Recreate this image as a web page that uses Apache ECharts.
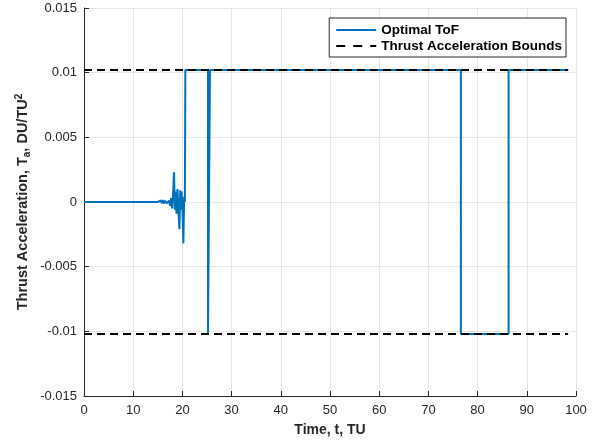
<!DOCTYPE html>
<html>
<head>
<meta charset="utf-8">
<script src="https://cdn.jsdelivr.net/npm/echarts@6/dist/echarts.min.js"></script>
<style>
  html, body { margin: 0; padding: 0; background: #fff; }
  #chart { width: 593px; height: 442px; }
</style>
</head>
<body>
<div id="chart"></div>
<script>
// time (TU) and thrust acceleration (DU/TU^2) for the optimal ToF solution
const tofTime = [
  0, 15, 15.2, 15.4, 15.6, 15.8, 16.0, 16.2, 16.5, 16.8, 17.0, 17.3, 17.5, 17.7, 17.9, 18.1,
  18.3, 18.45, 18.6, 18.8, 19.0, 19.2, 19.4, 19.55, 19.7, 19.85, 20.0, 20.2, 20.35, 20.5,
  20.6, 25.2, 25.2, 25.6, 25.6, 76.6, 76.6, 86.3, 86.3, 98.4
]
const tofAccel = [
  0, 0, 0.0001, -0.0001, 0.00012, -0.0001, 0.00015, -0.00012, 0.0001, -0.0001, 0, 0.0001, -0.0003, 0.0003, -0.0005, 0.0006,
  0.0023, -0.0006, 0.0008, -0.0009, 0.001, -0.0008, -0.0021, 0.0009, -0.0006, 0.0008, -0.0005, -0.0032, 0.0004, 0,
  0.0102, 0.0102, -0.0102, -0.0102, 0.0102, 0.0102, -0.0102, -0.0102, 0.0102, 0.0102
]
const boundTime = [0, 98.4]
const boundUpper = [0.0102, 0.0102]
const boundLower = [-0.0102, -0.0102]

const zip = (xs, ys) => xs.map((x, i) => [x, ys[i]])

const chart = echarts.init(document.getElementById('chart'))
const axisColor = '#262626'
const font = 'Liberation Sans, Arial, sans-serif'

const option = {
  animation: false,
  grid: { left: 84, right: 17, top: 8, bottom: 45 },
  legend: {
    data: [
      { name: 'Optimal ToF', itemStyle: { opacity: 0 } },
      { name: 'Thrust Acceleration Bounds', itemStyle: { opacity: 0 }, lineStyle: { type: [9, 8] } }
    ],
    orient: 'vertical',
    right: 27,
    top: 18,
    padding: [5, 4, 4, 6],
    itemGap: 2,
    itemWidth: 40,
    itemHeight: 14,
    borderColor: axisColor,
    borderWidth: 1,
    backgroundColor: '#fff',
    textStyle: { fontFamily: font, fontWeight: 'bold', fontSize: 13.5, color: '#000' }
  },
  xAxis: {
    type: 'value',
    min: 0,
    max: 100,
    interval: 10,
    name: 'Time, t, TU',
    nameLocation: 'middle',
    nameGap: 27,
    nameTextStyle: { fontFamily: font, fontWeight: 'bold', fontSize: 14, color: axisColor },
    axisLine: { onZero: false, lineStyle: { color: axisColor } },
    axisTick: { inside: true, length: 5, lineStyle: { color: axisColor } },
    axisLabel: { fontFamily: font, fontSize: 13, color: axisColor, margin: 8 },
    splitLine: { lineStyle: { color: '#e6e6e6' } }
  },
  yAxis: {
    type: 'value',
    min: -0.015,
    max: 0.015,
    interval: 0.005,
    name: '{b|Thrust Acceleration, T}{s|a}{b|, DU/TU}{p|2}',
    nameLocation: 'middle',
    nameGap: 51,
    nameMoveOverlap: false,
    nameRotate: 90,
    nameTextStyle: {
      color: axisColor,
      rich: {
        b: { fontFamily: font, fontWeight: 'bold', fontSize: 14.5, color: axisColor, lineHeight: 20 },
        s: { fontFamily: font, fontWeight: 'bold', fontSize: 10, color: axisColor, lineHeight: 20, padding: [8, 0, 0, 0] },
        p: { fontFamily: font, fontWeight: 'bold', fontSize: 10, color: axisColor, lineHeight: 20, padding: [0, 0, 8, 0] }
      }
    },
    axisLine: { show: true, onZero: false, lineStyle: { color: axisColor } },
    axisTick: { show: true, inside: true, length: 5, lineStyle: { color: axisColor } },
    axisLabel: {
      fontFamily: font, fontSize: 13, color: axisColor, margin: 7,
      formatter: v => String(parseFloat(v.toFixed(4)))
    },
    splitLine: { lineStyle: { color: '#e6e6e6' } }
  },
  series: [
    {
      name: 'Optimal ToF',
      type: 'line',
      showSymbol: false,
      symbol: 'none',
      color: '#0072BD',
      lineStyle: { width: 2, color: '#0072BD' },
      data: zip(tofTime, tofAccel),
      z: 2
    },
    {
      name: 'Thrust Acceleration Bounds',
      type: 'line',
      symbol: 'none',
      color: '#000',
      lineStyle: { width: 2, color: '#000', type: [8, 5] },
      data: zip(boundTime, boundUpper),
      z: 3
    },
    {
      name: 'Thrust Acceleration Bounds',
      type: 'line',
      symbol: 'none',
      color: '#000',
      lineStyle: { width: 2, color: '#000', type: [8, 5] },
      data: zip(boundTime, boundLower),
      z: 3
    }
  ]
}

chart.setOption(option)
</script>
</body>
</html>
